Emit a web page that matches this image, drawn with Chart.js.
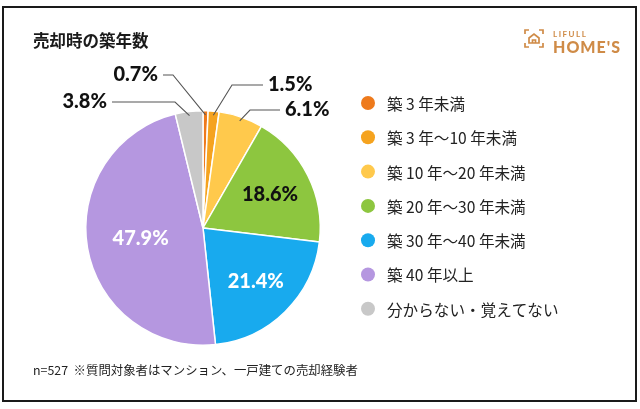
<!DOCTYPE html>
<html><head><meta charset="utf-8">
<script src="https://cdn.jsdelivr.net/npm/chart.js@4"></script>
<style>html,body{margin:0;padding:0;background:#fff;}#wrap{width:640px;height:409px;}</style>
</head><body><div id="wrap"><canvas id="c" width="640" height="409"></canvas></div>
<script>
const title = '売却時の築年数';
const categories = ['築 3 年未満','築 3 年〜10 年未満','築 10 年〜20 年未満','築 20 年〜30 年未満','築 30 年〜40 年未満','築 40 年以上','分からない・覚えてない'];
const values = [0.7, 1.5, 6.1, 18.6, 21.4, 47.9, 3.8];
const colors = ['#EE7A1C','#F5A31F','#FFC94C','#8DC63F','#18AAEE','#B597E0','#C8C8C8'];
const footnote = 'n=527  ※質問対象者はマンション、一戸建ての売却経験者';
// label placement styles: inside (radius factor, text color) or outside (elbow offset from centre, side)
const labelStyle = [
  {out:true, ex:-30, ey:-153, side:'left', len:10},
  {out:true, ex:29, ey:-143, side:'right', len:31},
  {out:true, ex:47, ey:-118, side:'right', len:30},
  {out:false, rf:0.64, color:'#111'},
  {out:false, rf:0.64, color:'#fff'},
  {out:false, rf:0.54, color:'#fff'},
  {out:true, ex:-28, ey:-126, side:'left', len:63}
];
const FONT_NUM = '"Lato","Noto Sans",sans-serif';
const FONT_JP = '"Noto Sans CJK JP","Noto Sans",sans-serif';

const decor = {
  id:'decor',
  beforeDraw(chart){
    const ctx = chart.ctx;
    ctx.save();
    ctx.fillStyle = '#fff';
    ctx.fillRect(0,0,chart.width,chart.height);
    ctx.restore();
  },
  afterDraw(chart){
    const ctx = chart.ctx;
    const meta = chart.getDatasetMeta(0);
    ctx.save();
    // frame
    ctx.strokeStyle = '#1a1a1a';
    ctx.lineWidth = 2;
    ctx.strokeRect(3, 7, 633, 394);
    // title
    ctx.fillStyle = '#1a1a1a';
    ctx.font = 'bold 16.5px ' + FONT_JP;
    ctx.textBaseline = 'middle';
    ctx.textAlign = 'left';
    ctx.fillText(title, 33, 41);
    // logo
    const lc = '#CF8B47';
    ctx.strokeStyle = lc; ctx.fillStyle = lc; ctx.lineWidth = 1.7;
    const bx=525, by=30, bw=18, bh=17, c=4;
    ctx.beginPath();
    ctx.moveTo(bx, by+c); ctx.lineTo(bx, by); ctx.lineTo(bx+c, by);
    ctx.moveTo(bx+bw-c, by); ctx.lineTo(bx+bw, by); ctx.lineTo(bx+bw, by+c);
    ctx.moveTo(bx, by+bh-c); ctx.lineTo(bx, by+bh); ctx.lineTo(bx+c, by+bh);
    ctx.moveTo(bx+bw-c, by+bh); ctx.lineTo(bx+bw, by+bh); ctx.lineTo(bx+bw, by+bh-c);
    ctx.stroke();
    ctx.beginPath();
    ctx.moveTo(bx+4, by+13); ctx.lineTo(bx+4, by+8); ctx.lineTo(bx+9, by+4); ctx.lineTo(bx+14, by+8); ctx.lineTo(bx+14, by+13); ctx.closePath();
    ctx.stroke();
    ctx.beginPath(); ctx.moveTo(bx+7.5, by+13); ctx.lineTo(bx+7.5, by+10); ctx.lineTo(bx+10.5, by+10); ctx.lineTo(bx+10.5, by+13); ctx.stroke();
    ctx.font = 'bold 8px ' + FONT_NUM;
    ctx.textBaseline = 'alphabetic';
    ctx.letterSpacing = '1.5px';
    ctx.fillText('LIFULL', 553, 37);
    ctx.letterSpacing = '1px';
    ctx.font = '900 16px ' + FONT_NUM;
    ctx.fillText("HOME'S", 553, 53);
    ctx.letterSpacing = '0px';
    // footnote
    ctx.fillStyle = '#222';
    ctx.font = '12.4px ' + FONT_JP;
    ctx.textBaseline = 'middle';
    ctx.fillText(footnote, 33, 370);
    // legend
    const lx = 368, ly0 = 103, lstep = 34.3;
    categories.forEach((cat,i)=>{
      const y = ly0 + i*lstep;
      ctx.fillStyle = colors[i];
      ctx.beginPath(); ctx.arc(lx, y, 7, 0, Math.PI*2); ctx.fill();
      ctx.fillStyle = '#222';
      ctx.font = '15.6px ' + FONT_JP;
      ctx.fillText(cat, 387, y+1);
    });
    // value labels
    const arc0 = meta.data[0];
    const cx = arc0.x, cy = arc0.y, R = arc0.outerRadius;
    meta.data.forEach((arc,i)=>{
      const st = labelStyle[i];
      const mid = (arc.startAngle + arc.endAngle)/2;
      const txt = values[i].toFixed(1) + '%';
      ctx.font = '900 20px ' + FONT_NUM;
      ctx.textBaseline = 'middle';
      if(!st.out){
        ctx.fillStyle = st.color;
        ctx.textAlign = 'center';
        ctx.fillText(txt, cx + Math.cos(mid)*R*st.rf, cy + Math.sin(mid)*R*st.rf);
      } else {
        const ax = cx + Math.cos(mid)*(R-4), ay = cy + Math.sin(mid)*(R-4);
        const ex = cx + st.ex, ey = cy + st.ey;
        const dir = st.side === 'left' ? -1 : 1;
        const tx = ex + dir*st.len;
        ctx.strokeStyle = '#555'; ctx.lineWidth = 1.1;
        ctx.beginPath(); ctx.moveTo(ax, ay); ctx.lineTo(ex, ey); ctx.lineTo(tx, ey); ctx.stroke();
        ctx.fillStyle = '#111';
        ctx.textAlign = st.side === 'left' ? 'right' : 'left';
        ctx.fillText(txt, tx + dir*5, ey);
      }
    });
    ctx.restore();
  }
};

new Chart(document.getElementById('c'), {
  type:'pie',
  data:{ labels: categories, datasets:[{ data: values, backgroundColor: colors, borderColor:'#fff', borderWidth:1.5 }] },
  options:{
    responsive:false,
    animation:false,
    layout:{ padding:{ left:85, right:319, top:110, bottom:63 } },
    plugins:{ legend:{display:false}, tooltip:{enabled:false} }
  },
  plugins:[decor]
});
</script>
</body></html>
